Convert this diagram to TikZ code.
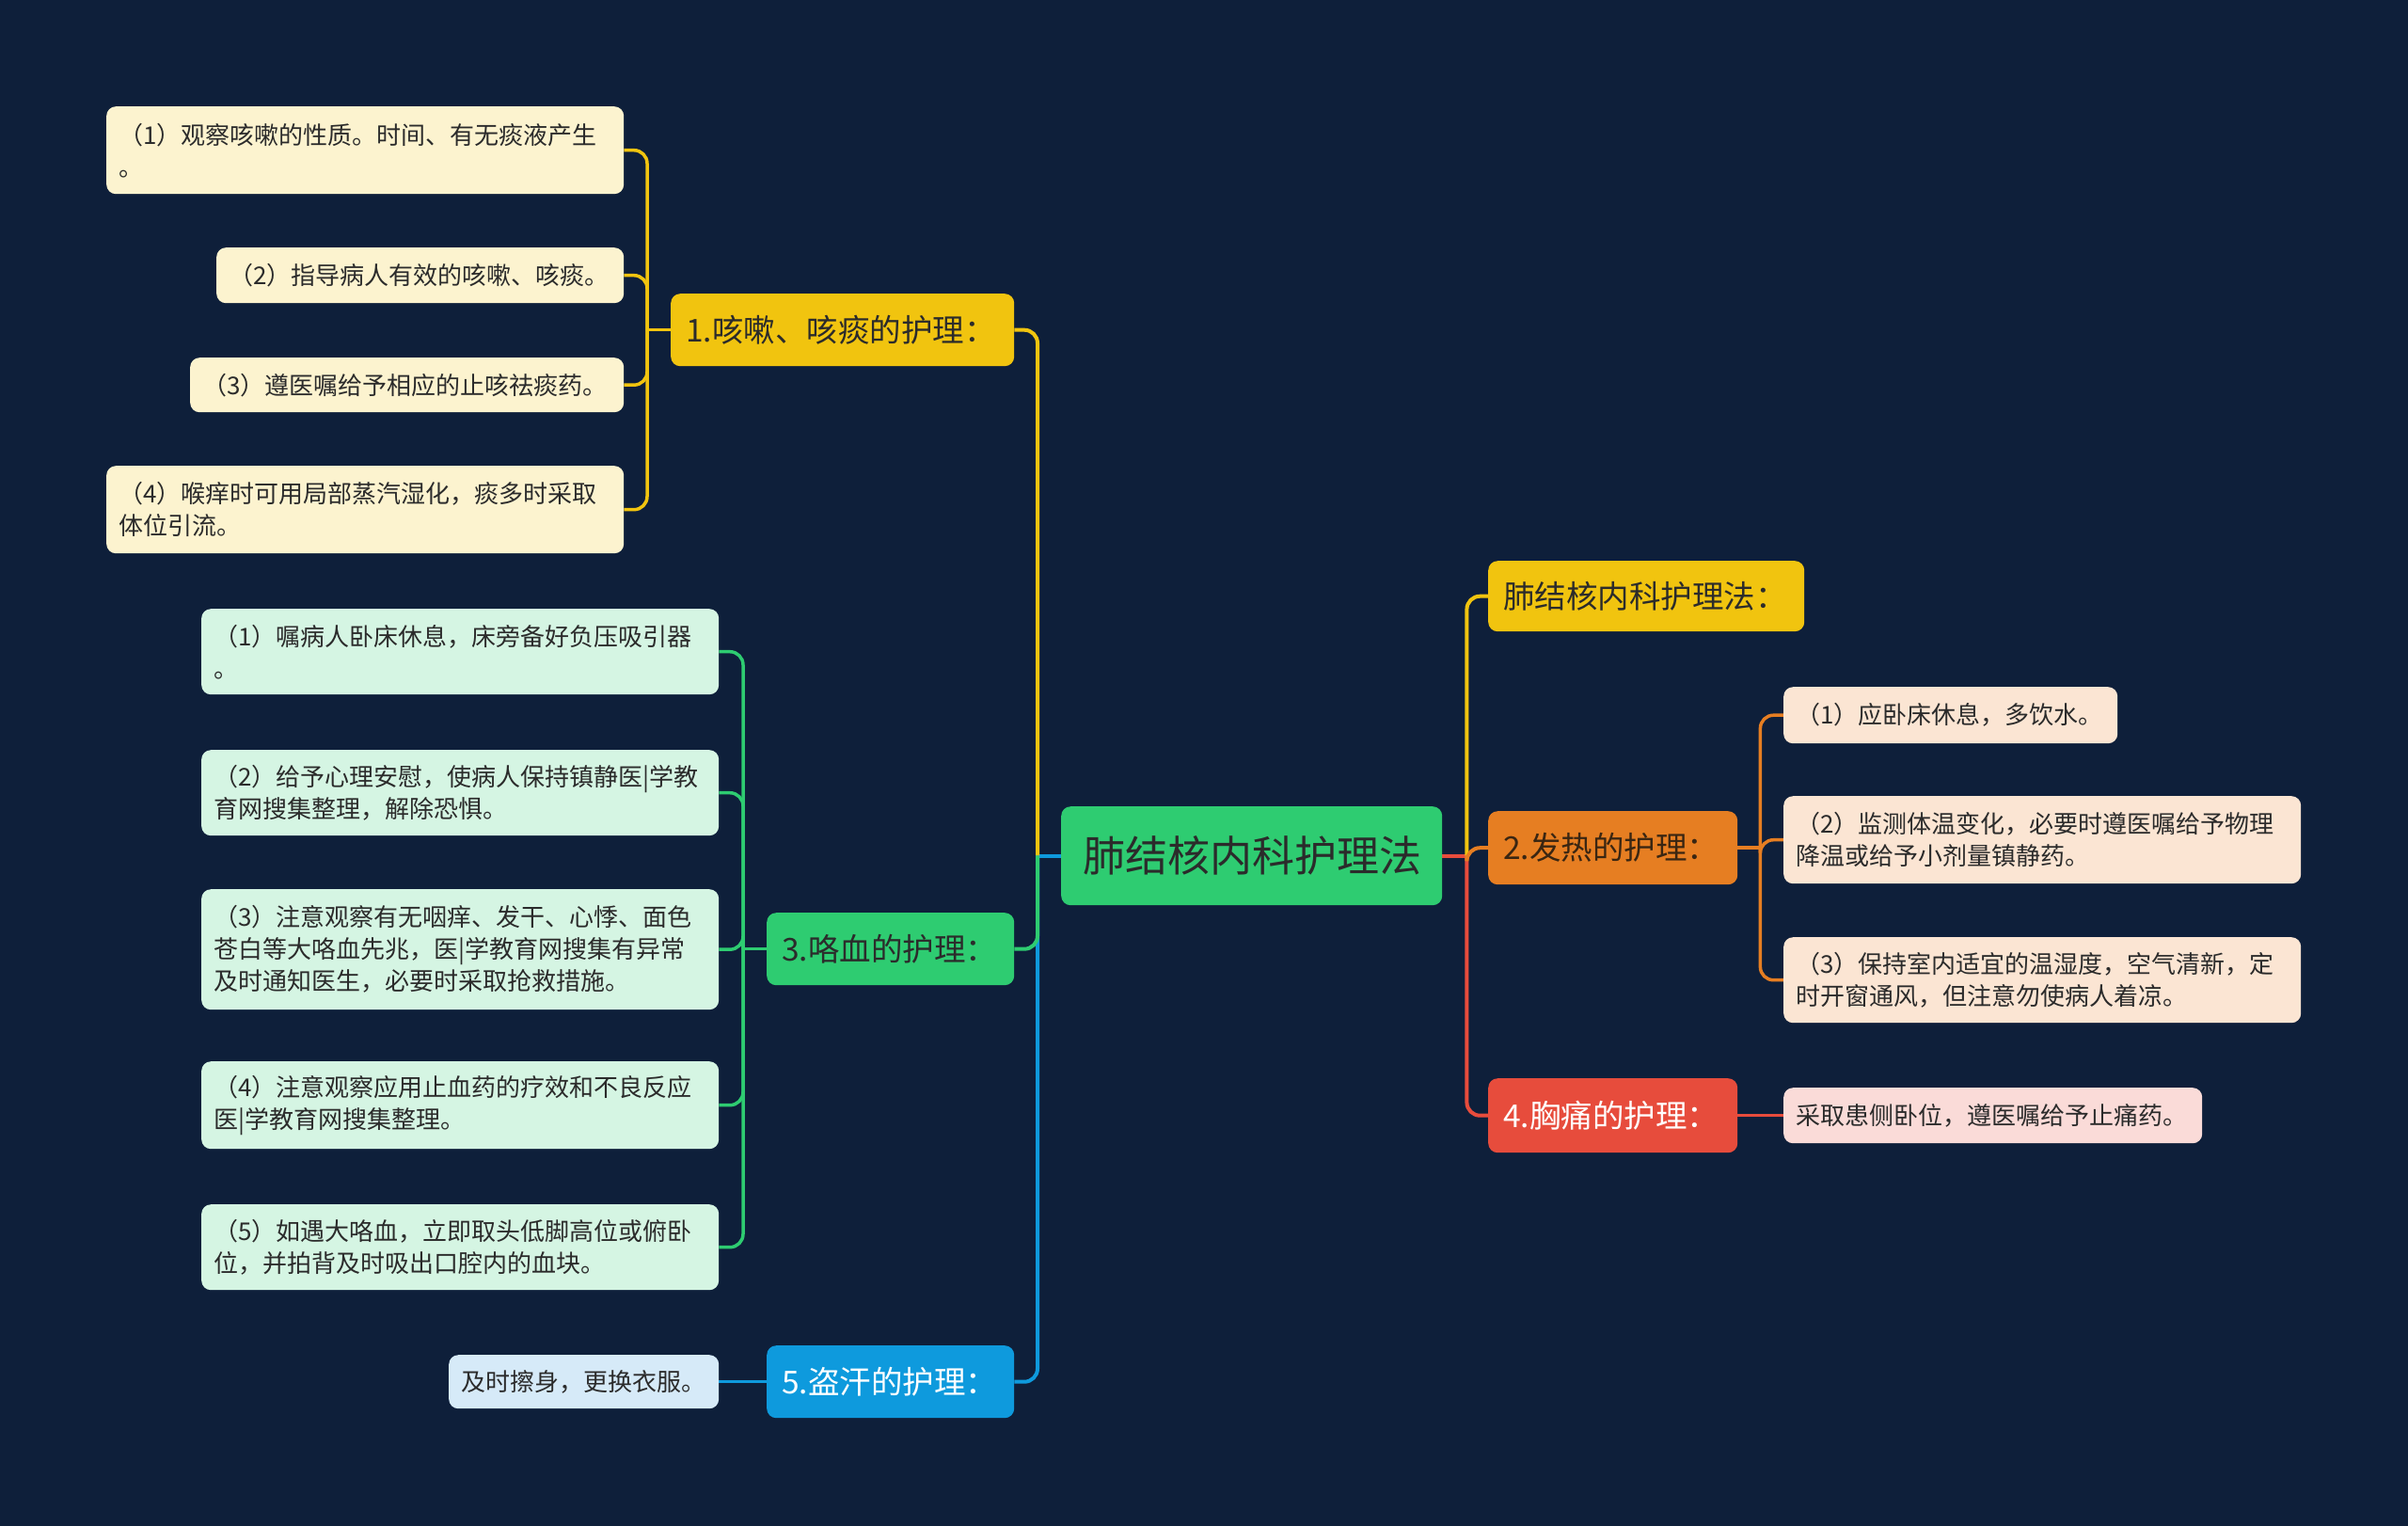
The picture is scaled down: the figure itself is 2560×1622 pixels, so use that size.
\documentclass[tikz,border=0pt]{standalone}
\usepackage{fontspec}
\setmainfont{Noto Sans CJK SC}
\pgfdeclarelayer{back}
\pgfdeclarelayer{bg}
\pgfsetlayers{back,bg,main}
\definecolor{bgc}{HTML}{0E1F3A}
\definecolor{cyellow}{HTML}{F1C40F}
\definecolor{cgreen}{HTML}{2ECC71}
\definecolor{corange}{HTML}{E67E22}
\definecolor{cred}{HTML}{E74C3C}
\definecolor{cblue}{HTML}{0E9ADD}
\definecolor{ly}{HTML}{FCF3CF}
\definecolor{lg}{HTML}{D5F5E3}
\definecolor{lo}{HTML}{FBE5D3}
\definecolor{lr}{HTML}{FADBD8}
\definecolor{lb}{HTML}{D6EAF8}
\definecolor{dtxt}{HTML}{2B2B2B}
\definecolor{otxt}{HTML}{3A2612}
\tikzset{
  box/.style={rounded corners=10pt, inner ysep=0pt, anchor=north west, align=left},
  leaf/.style={box, inner xsep=13pt, font=\fontsize{26}{34}\selectfont, text=dtxt},
  branch/.style={box, inner xsep=16pt, font=\fontsize{33.5}{40}\selectfont},
  rootbox/.style={box, inner xsep=23pt, align=center, font=\fontsize{45}{54}\selectfont, fill=cgreen, text=dtxt},
  conn/.style={line width=4pt, rounded corners=14pt},
  lconn/.style={line width=3.5pt, rounded corners=14pt},
  stub/.style={line width=4pt, line cap=round},
  lstub/.style={line width=3.5pt, line cap=round}
}
\begin{document}
\begin{tikzpicture}[x=1pt,y=-1pt]
\begin{pgfonlayer}{back}
\fill[bgc] (0,0) rectangle (2560,1622);
\end{pgfonlayer}
\useasboundingbox (0,0) rectangle (2560,1622);

% root
\node[rootbox, text width=359pt, minimum height=105pt] (root) at (1128,857) {肺结核内科护理法};

% branches
\node[branch, fill=cyellow, text=dtxt, text width=304pt, minimum height=75pt] (R1) at (1582,596) {肺结核内科护理法：};
\node[branch, fill=corange, text=otxt, text width=233pt, minimum height=78pt] (R2) at (1582,862) {2.发热的护理：};
\node[branch, fill=cred, text=white, text width=233pt, minimum height=79pt] (R4) at (1582,1146) {4.胸痛的护理：};
\node[branch, fill=cyellow, text=dtxt, text width=333pt, minimum height=77pt] (L1) at (713,312) {1.咳嗽、咳痰的护理：};
\node[branch, fill=cgreen, text=dtxt, text width=231pt, minimum height=77pt] (L3) at (815,970) {3.咯血的护理：};
\node[branch, fill=cblue, text=white, text width=231pt, minimum height=77pt] (L5) at (815,1430) {5.盗汗的护理：};

% leaves of 1
\node[leaf, fill=ly, text width=524pt, minimum height=93pt] (a1) at (113,113) {（1）观察咳嗽的性质。时间、有无痰液产生\\。};
\node[leaf, fill=ly, text width=407pt, minimum height=59pt] (a2) at (230,263) {（2）指导病人有效的咳嗽、咳痰。};
\node[leaf, fill=ly, text width=435pt, minimum height=58pt] (a3) at (202,380) {（3）遵医嘱给予相应的止咳祛痰药。};
\node[leaf, fill=ly, text width=524pt, minimum height=93pt] (a4) at (113,495) {（4）喉痒时可用局部蒸汽湿化，痰多时采取\\体位引流。};

% leaves of 3
\node[leaf, fill=lg, text width=524pt, minimum height=91pt] (b1) at (214,647) {（1）嘱病人卧床休息，床旁备好负压吸引器\\。};
\node[leaf, fill=lg, text width=524pt, minimum height=91pt] (b2) at (214,797) {（2）给予心理安慰，使病人保持镇静医|学教\\育网搜集整理，解除恐惧。};
\node[leaf, fill=lg, text width=524pt, minimum height=128pt] (b3) at (214,945) {（3）注意观察有无咽痒、发干、心悸、面色\\苍白等大咯血先兆，医|学教育网搜集有异常\\及时通知医生，必要时采取抢救措施。};
\node[leaf, fill=lg, text width=524pt, minimum height=93pt] (b4) at (214,1128) {（4）注意观察应用止血药的疗效和不良反应\\医|学教育网搜集整理。};
\node[leaf, fill=lg, text width=524pt, minimum height=91pt] (b5) at (214,1280) {（5）如遇大咯血，立即取头低脚高位或俯卧\\位，并拍背及时吸出口腔内的血块。};

% leaf of 5
\node[leaf, fill=lb, text width=261pt, minimum height=57pt] (c1) at (477,1440) {及时擦身，更换衣服。};

% leaves of 2
\node[leaf, fill=lo, text width=329pt, minimum height=60pt] (d1) at (1896,730) {（1）应卧床休息，多饮水。};
\node[leaf, fill=lo, text width=524pt, minimum height=93pt] (d2) at (1896,846) {（2）监测体温变化，必要时遵医嘱给予物理\\降温或给予小剂量镇静药。};
\node[leaf, fill=lo, text width=524pt, minimum height=91pt] (d3) at (1896,996) {（3）保持室内适宜的温湿度，空气清新，定\\时开窗通风，但注意勿使病人着凉。};

% leaf of 4
\node[leaf, fill=lr, text width=419pt, minimum height=59pt] (e1) at (1896,1156) {采取患侧卧位，遵医嘱给予止痛药。};

\begin{pgfonlayer}{bg}
% root to left branches
\draw[stub, cblue] (root.west) -- ++(-25,0);
\draw[conn, cyellow] (root.west) ++(-25,0) |- (L1.east);
\draw[conn, cblue] (root.west) ++(-25,0) |- (L5.east);
\draw[conn, cgreen] (root.west) ++(-25,0) |- (L3.east);
% root to right branches
\draw[stub, cred] (root.east) -- ++(26,0);
\draw[conn, cyellow] (root.east) ++(26,0) |- (R1.west);
\draw[conn, cred] (root.east) ++(26,0) |- (R4.west);
\draw[conn, corange] (root.east) ++(26,0) |- (R2.west);
% group 1
\draw[lstub, cyellow] (L1.west) -- ++(-25,0);
\foreach \n in {a1,a2,a3,a4}
  \draw[lconn, cyellow] (L1.west) ++(-25,0) |- (\n.east);
% group 3
\draw[lstub, cgreen] (L3.west) -- ++(-25,0);
\foreach \n in {b1,b2,b3,b4,b5}
  \draw[lconn, cgreen] (L3.west) ++(-25,0) |- (\n.east);
% group 5
\draw[lconn, cblue] (L5.west) -- (c1.east);
% group 2
\draw[lstub, corange] (R2.east) -- ++(24,0);
\foreach \n in {d1,d2,d3}
  \draw[lconn, corange] (R2.east) ++(24,0) |- (\n.west);
% group 4
\draw[lconn, cred] (R4.east) -- (e1.west);
\end{pgfonlayer}
\end{tikzpicture}
\end{document}
